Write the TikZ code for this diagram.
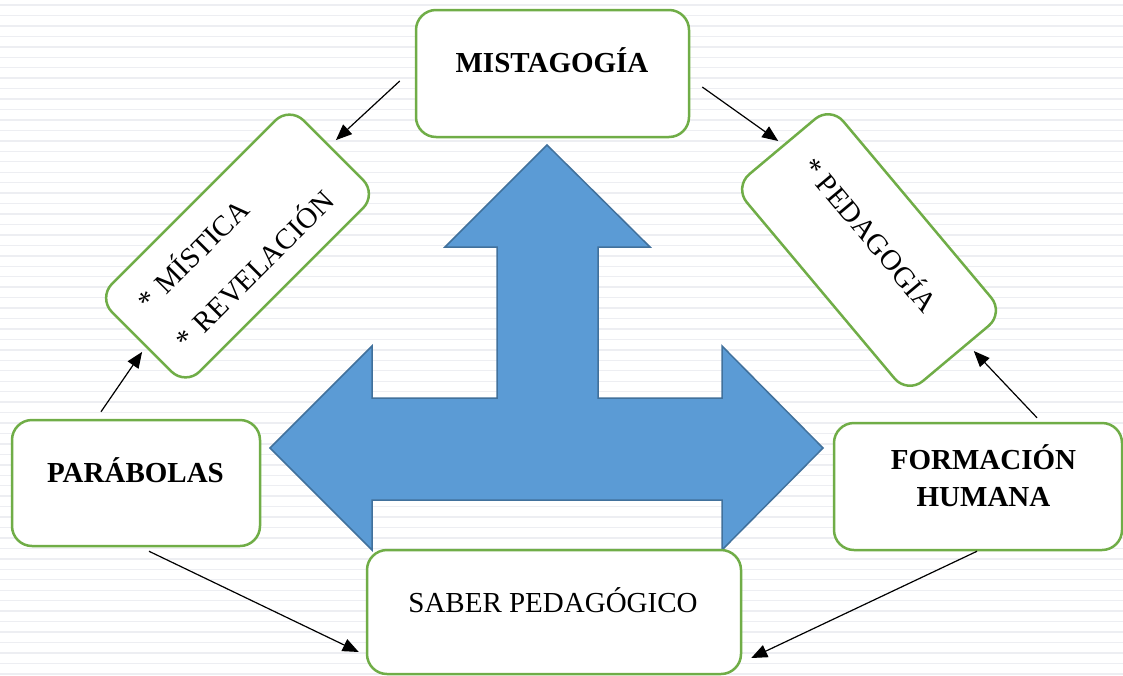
\documentclass[tikz,border=0pt]{standalone}
\usepackage{fontspec}
\setmainfont{Liberation Serif}
\usetikzlibrary{arrows.meta,calc}
\definecolor{boxgreen}{HTML}{70AD47}
\definecolor{arrowfill}{HTML}{5B9BD5}
\definecolor{arrowline}{HTML}{41719C}
\definecolor{stripe}{HTML}{EDEEF2}
\begin{document}
\begin{tikzpicture}[x=1pt,y=-1pt,
  rbox/.style={draw=boxgreen, line width=2.5pt, fill=white, rounded corners=20pt, inner sep=0pt},
  conn/.style={-{Triangle[length=16pt,width=13pt]}, line width=1.2pt},
  bigtxt/.style={font=\fontsize{29}{35}\selectfont\bfseries, inner sep=0pt},
  regtxt/.style={font=\fontsize{29}{35}\selectfont, inner sep=0pt}]
\useasboundingbox (0,0) rectangle (1123,675);
\fill[white] (0,0) rectangle (1123,675);
\foreach \i in {0,...,64} \draw[stripe, line width=1.4pt] (0,{5+10.45*\i}) -- (1123,{5+10.45*\i});
% big three-way arrow
\draw[fill=arrowfill, draw=arrowline, line width=1.5pt, line join=miter]
  (547,145) -- (650,247) -- (598,247) -- (598,398) -- (722,398) -- (722,346) -- (823,448)
  -- (722,550) -- (722,500) -- (372,500) -- (372,550) -- (270,448) -- (372,346)
  -- (372,398) -- (497,398) -- (497,247) -- (445,247) -- cycle;
% boxes
\node[rbox, minimum width=273pt, minimum height=127pt] (mist) at (552.5,73.5) {};
\node[rbox, minimum width=248pt, minimum height=126pt] (para) at (136,483) {};
\node[rbox, minimum width=288pt, minimum height=127pt] (form) at (978,486.5) {};
\node[rbox, minimum width=374pt, minimum height=124pt] (saber) at (554,612) {};
\node[rbox, rotate=45, minimum width=271pt, minimum height=124pt, text width=219pt, inner xsep=26pt, align=left, font=\fontsize{29}{54}\selectfont] (mis) at (237.5,246) {{*} MÍSTICA\\{*} REVELACIÓN};
\node[rbox, rotate=-50, minimum width=270pt, minimum height=126pt] (ped) at (869,250) {};
% texts
\node[bigtxt, anchor=base] (misttxt) at (552,72) {MISTAGOGÍA};
\node[bigtxt, anchor=base] (paratxt) at (135.5,482) {PARÁBOLAS};
\node[bigtxt, anchor=base, align=center, font=\fontsize{29}{37}\selectfont\bfseries] (formtxt) at (983.5,506) {FORMACIÓN\\HUMANA};
\node[regtxt, anchor=base] (sabertxt) at (553,612) {SABER PEDAGÓGICO};
\node[regtxt, rotate=-50, anchor=base] (pedtxt) at (862.3,241.4) {* PEDAGOGÍA};
% connectors
\draw[conn] ($(mist.west)+(-15,7.5)$) -- ($(mis.east)+(1.7,-9.2)$);
\draw[conn] ($(mist.east)+(12,13.5)$) -- ($(ped.west)+(-3.2,-4.6)$);
\draw[conn] ($(para.north)+(-35,-7)$) -- ($(mis.west)+(1.3,9.2)$);
\draw[conn] ($(form.north)+(59,-4)$) -- ($(ped.east)+(17.2,-3.4)$);
\draw[conn] ($(para.south)+(13,4)$) -- ($(saber.west)+(-7,40)$);
\draw[conn] ($(form.south)+(-1,0)$) -- ($(saber.east)+(9,46)$);
\end{tikzpicture}
\end{document}
